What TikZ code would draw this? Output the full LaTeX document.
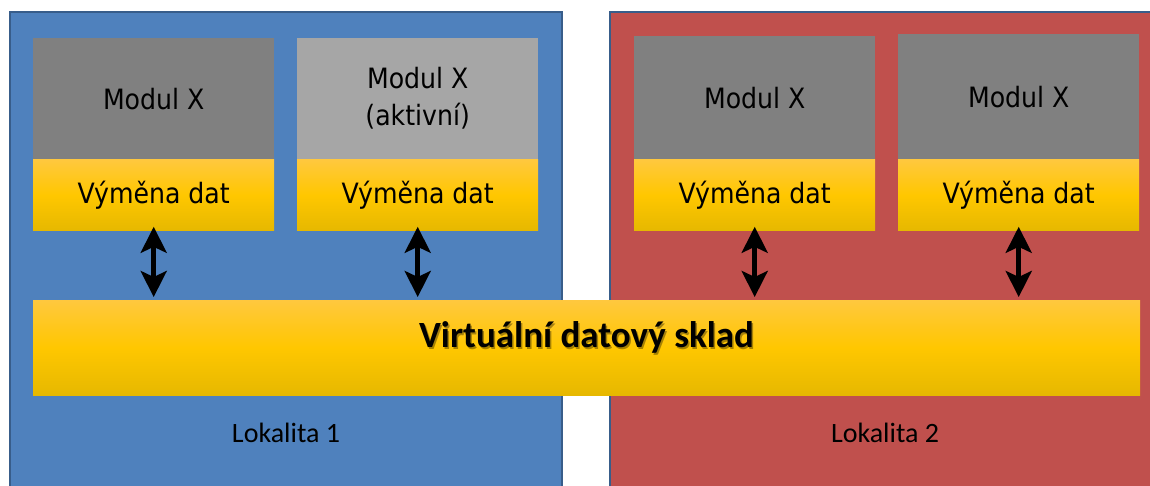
\documentclass[tikz,border=0pt]{standalone}
\usepackage{fontspec}
\setmainfont{Carlito}
\newfontfamily\modfont{DejaVu Sans Condensed}
\usetikzlibrary{arrows.meta}
\definecolor{lokblue}{HTML}{4F81BD}
\definecolor{lokred}{HTML}{C0504D}
\definecolor{lokborder}{HTML}{385D8A}
\definecolor{modgray}{HTML}{808080}
\definecolor{modlight}{HTML}{A6A6A6}
\definecolor{ytop}{RGB}{255,200,62}
\definecolor{ymid}{RGB}{255,199,0}
\definecolor{ybot}{RGB}{230,184,0}
\tikzset{
  lokbox/.style={draw=lokborder, line width=1.5pt, anchor=north west, inner sep=0pt},
  modbox/.style={fill=modgray, anchor=north west, inner sep=0pt, minimum width=241pt,
    minimum height=121pt, font=\modfont\fontsize{28}{37}\selectfont, align=center, text=black},
  dxbox/.style={anchor=north west, inner sep=0pt, minimum width=241pt, minimum height=71pt,
    top color=ytop, bottom color=ybot, middle color=ymid,
    font=\modfont\fontsize{28}{34}\selectfont, text=black},
  loktext/.style={font=\fontsize{28}{34}\selectfont, text=black},
  xarrow/.style={line width=4.5pt, {Stealth[length=26pt,width=26pt,inset=6pt]}-{Stealth[length=26pt,width=26pt,inset=6pt]}, shorten <=-4pt, shorten >=3pt},
}
\begin{document}
\begin{tikzpicture}[x=1pt,y=-1pt]
\useasboundingbox (0,0) rectangle (1150,485);
\clip (0,0) rectangle (1150,485);
\fill[white] (0,0) rectangle (1150,485);
% Lokality
\node[lokbox, fill=lokblue, minimum width=552pt, minimum height=490pt] (lok1) at (9,11) {};
\node[lokbox, fill=lokred, minimum width=560pt, minimum height=490pt] (lok2) at (609,11) {};
% Moduly
\node[modbox] (m1) at (33,38) {Modul X};
\node[modbox, fill=modlight] (m2) at (297,38) {Modul X\\(aktivní)};
\node[modbox, minimum height=123pt] (m3) at (634,36) {Modul X};
\node[modbox, minimum height=125pt] (m4) at (898,34) {Modul X};
\node[dxbox] (d1) at (m1.south west) {Výměna dat};
\node[dxbox] (d2) at (m2.south west) {Výměna dat};
\node[dxbox] (d3) at (m3.south west) {Výměna dat};
\node[dxbox] (d4) at (m4.south west) {Výměna dat};
% Virtualni datovy sklad
\node[dxbox, minimum width=1107pt, minimum height=95pt] (vds) at (33,300) {};
\node[anchor=base, font=\bfseries\fontsize{37}{44}\selectfont, text=black, opacity=0.35] (vdsshadow) at (588,349) {Virtuální datový sklad};
\node[anchor=base, font=\bfseries\fontsize{37}{44}\selectfont, text=black] (vdstext) at (586.5,347) {Virtuální datový sklad};
% Popisky lokalit
\node[loktext] (lt1) at (286,433) {Lokalita 1};
\node[loktext] (lt2) at (885,433) {Lokalita 2};
% Sipky
\draw[xarrow] (d1.south) -- (d1.south |- vds.north);
\draw[xarrow] (d2.south) -- (d2.south |- vds.north);
\draw[xarrow] (d3.south) -- (d3.south |- vds.north);
\draw[xarrow] (d4.south) -- (d4.south |- vds.north);
\end{tikzpicture}
\end{document}
